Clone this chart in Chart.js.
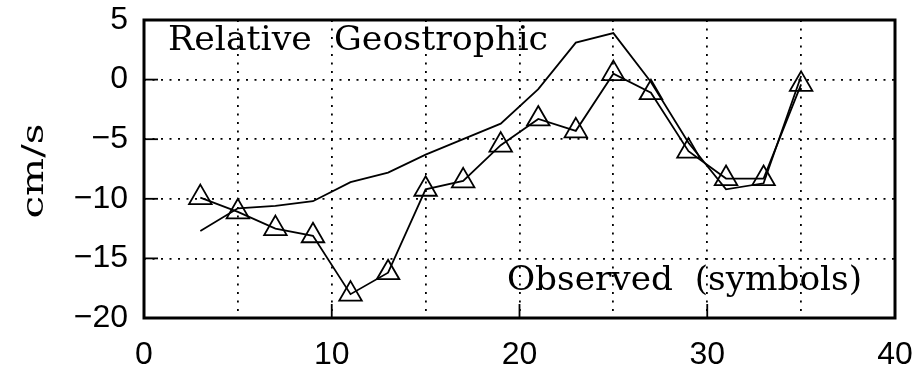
<!DOCTYPE html>
<html>
<head>
<meta charset="utf-8">
<script src="https://cdn.jsdelivr.net/npm/chart.js@4.4.1/dist/chart.umd.min.js"></script>
<style>
  body { margin: 0; background: #fff; }
  #wrap { width: 915px; height: 371px; }
</style>
</head>
<body>
<div id="wrap"><canvas id="chart"></canvas></div>
<script>
// stations (x) and velocities in cm/s
var stations = [3, 5, 7, 9, 11, 13, 15, 17, 19, 21, 23, 25, 27, 29, 31, 33, 35];
var geostrophic = [-12.7, -10.8, -10.6, -10.2, -8.6, -7.8, -6.3, -5.0, -3.7, -0.8, 3.1, 3.9, -0.2, -5.3, -9.2, -8.7, 0.3];
var observed = [-9.9, -11.1, -12.5, -13.1, -18.0, -16.2, -9.2, -8.5, -5.5, -3.3, -4.3, 0.5, -1.1, -6.0, -8.3, -8.3, -0.4];

var xTicks = [0, 10, 20, 30, 40];
var yTicks = [-20, -15, -10, -5, 0, 5];
var yTitle = 'cm/s';
var labelTop = 'Relative  Geostrophic';
var labelBottom = 'Observed  (symbols)';

function toPoints(xs, ys) {
    var pts = [];
    for (var i = 0; i < xs.length; i++) {
        pts.push({x: xs[i], y: ys[i]});
    }
    return pts;
}

function minus(v) {
    return v < 0 ? '\u2212' + Math.abs(v) : '' + v;
}

function drawFitted(ctx, text, x, y, width) {
    var w = ctx.measureText(text).width;
    ctx.save();
    ctx.translate(x, y);
    ctx.scale(width / w, 1);
    ctx.fillText(text, 0, 0);
    ctx.restore();
}

// frame, inward ticks, y title and the two in-plot captions
var framePlugin = {
    id: 'frame',
    afterDatasetsDraw: function(chart) {
        var ctx = chart.ctx;
        var a = chart.chartArea;
        var xs = chart.scales.x;
        var ys = chart.scales.y;
        ctx.save();
        ctx.strokeStyle = '#000';
        ctx.lineWidth = 1.8;
        for (var i = 0; i < yTicks.length; i++) {
            var py = ys.getPixelForValue(yTicks[i]);
            ctx.beginPath();
            ctx.moveTo(a.left, py);
            ctx.lineTo(a.left + 14, py);
            ctx.stroke();
        }
        for (var j = 0; j < xTicks.length; j++) {
            var px = xs.getPixelForValue(xTicks[j]);
            ctx.beginPath();
            ctx.moveTo(px, a.bottom);
            ctx.lineTo(px, a.bottom - 14);
            ctx.stroke();
        }
        ctx.lineWidth = 3;
        ctx.strokeRect(a.left, a.top, a.right - a.left, a.bottom - a.top);

        ctx.fillStyle = '#000';
        ctx.font = '33px "DejaVu Serif"';
        ctx.textBaseline = 'alphabetic';
        drawFitted(ctx, labelTop, a.left + 24, a.top + 30, 380);
        drawFitted(ctx, labelBottom, a.right - 33 - 355, a.bottom - 28, 355);

        // rotated axis title
        ctx.font = '30px "DejaVu Serif"';
        ctx.save();
        ctx.translate(43, (a.top + a.bottom) / 2 + 2 + 95 / 2);
        ctx.rotate(-Math.PI / 2);
        drawFitted(ctx, yTitle, 0, 0, 95);
        ctx.restore();
        ctx.restore();
    }
};

var ctx = document.getElementById('chart').getContext('2d');
new Chart(ctx, {
    type: 'line',
    data: {
        datasets: [{
            label: 'Relative Geostrophic',
            data: toPoints(stations, geostrophic),
            borderColor: '#000',
            borderWidth: 1.8,
            pointRadius: 0,
            tension: 0,
            fill: false
        }, {
            label: 'Observed',
            data: toPoints(stations, observed),
            borderColor: '#000',
            borderWidth: 1.8,
            pointStyle: 'triangle',
            pointRadius: 13,
            pointBorderWidth: 1.8,
            pointBorderColor: '#000',
            pointBackgroundColor: 'rgba(0,0,0,0)',
            tension: 0,
            fill: false
        }]
    },
    options: {
        responsive: true,
        maintainAspectRatio: false,
        animation: false,
        events: [],
        layout: { padding: { top: 20, right: 20, left: 0, bottom: 0 } },
        plugins: {
            legend: { display: false },
            tooltip: { enabled: false }
        },
        scales: {
            x: {
                type: 'linear',
                min: 0,
                max: 40,
                afterFit: function(scale) {
                    scale.height = 53;
                    scale.paddingLeft = 0;
                    scale.paddingRight = 0;
                },
                ticks: {
                    stepSize: 5,
                    padding: 18,
                    maxRotation: 0,
                    color: '#000',
                    font: { family: '"Liberation Sans"', size: 32 },
                    callback: function(v) { return v % 10 === 0 ? '' + v : ''; }
                },
                grid: { color: '#000', lineWidth: 1.8, drawTicks: false },
                border: { display: false, dash: [2, 6.5] }
            },
            y: {
                min: -20,
                max: 5,
                afterFit: function(scale) {
                    scale.width = 144;
                    scale.paddingTop = 0;
                    scale.paddingBottom = 0;
                },
                ticks: {
                    stepSize: 5,
                    padding: 16,
                    color: '#000',
                    font: { family: '"Liberation Sans"', size: 32 },
                    callback: function(v) { return minus(v); }
                },
                grid: { color: '#000', lineWidth: 1.8, drawTicks: false },
                border: { display: false, dash: [2, 6.5] }
            }
        }
    },
    plugins: [framePlugin]
});
</script>
</body>
</html>
